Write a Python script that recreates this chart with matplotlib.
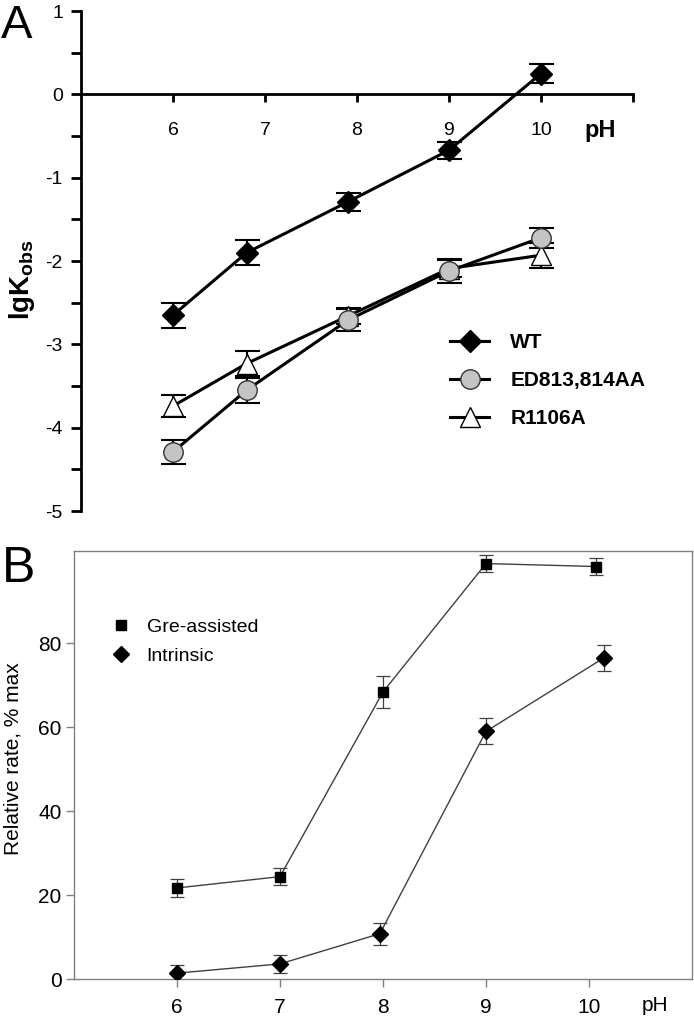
import matplotlib
matplotlib.use('Agg')
import matplotlib.pyplot as plt
from matplotlib.lines import Line2D

plt.rcParams['font.family'] = ['Liberation Sans', 'DejaVu Sans']
plt.rcParams['mathtext.default'] = 'regular'
plt.rcParams['axes.unicode_minus'] = False

# panel A data (lgKobs vs pH)
ph_a = [6, 6.8, 7.9, 9, 10]
wt = [-2.65, -1.90, -1.29, -0.67, 0.25]
wt_err = [0.15, 0.15, 0.11, 0.10, 0.11]
ed = [-4.29, -3.55, -2.71, -2.12, -1.72]
ed_err = [0.14, 0.15, 0.13, 0.14, 0.12]
r1106 = [-3.74, -3.23, -2.66, -2.09, -1.93]
r1106_err = [0.13, 0.15, 0.10, 0.10, 0.15]
ticks_a = [6, 7, 8, 9, 10, 11]
ticklabels_a = ['6', '7', '8', '9', '10', '']

# panel B data (relative rate vs pH)
ph_gre = [6, 7, 8, 9, 10.07]
gre = [21.7, 24.4, 68.4, 99.0, 98.3]
gre_err = [2.1, 2.1, 3.7, 2.1, 2.1]
ph_int = [6, 7, 7.97, 9, 10.15]
intr = [1.4, 3.6, 10.8, 59.0, 76.6]
intr_err = [1.9, 2.1, 2.6, 3.1, 3.1]
ticks_b = [6, 7, 8, 9, 10]

fig = plt.figure(figsize=(6.94, 10.16), dpi=100)

# ---------- panel A ----------
ax1 = fig.add_axes([0.1167, 0.4970, 0.7954, 0.4921])
ebkw = dict(fmt='none', ecolor='k', elinewidth=1.5, capsize=9, capthick=1.5, zorder=2)
ax1.errorbar(ph_a, r1106, yerr=r1106_err, **ebkw)
ax1.errorbar(ph_a, ed, yerr=ed_err, **ebkw)
ax1.errorbar(ph_a, wt, yerr=wt_err, **ebkw)
h_r, = ax1.plot(ph_a, r1106, '-^', color='k', lw=2.2, ms=14, mfc='white', mec='k', mew=1.0, zorder=3, label='R1106A')
h_ed, = ax1.plot(ph_a, ed, '-o', color='k', lw=2.2, ms=14, mfc='#c4c4c4', mec='#333333', mew=1.0, zorder=3, label='ED813,814AA')
h_wt, = ax1.plot(ph_a, wt, '-D', color='k', lw=2.2, ms=11, mfc='k', mec='k', zorder=4, label='WT')

ax1.set_xlim(5, 11)
ax1.set_ylim(-5, 1)
ax1.spines['bottom'].set_position(('data', 0))
ax1.spines['top'].set_visible(False)
ax1.spines['right'].set_visible(False)
for s in ['left', 'bottom']:
    ax1.spines[s].set_linewidth(2)
ax1.set_xticks(ticks_a)
ax1.set_xticklabels(ticklabels_a)
ax1.set_yticks([-5, -4, -3, -2, -1, 0, 1])
ax1.set_yticks([-4.5, -3.5, -2.5, -1.5, -0.5, 0.5], minor=True)
ax1.tick_params(axis='x', direction='out', length=6, width=2, pad=14, labelsize=14)
ax1.tick_params(axis='y', which='both', direction='out', length=7, width=2, pad=6, labelsize=14)
ax1.text(10.64, -0.43, 'pH', fontsize=17, fontweight='bold', ha='center', va='center')
ax1.set_ylabel('lgK$_{obs}$', fontsize=20, fontweight='bold')
ax1.yaxis.set_label_coords(-0.080, 0.462)
ax1.legend(handles=[h_wt, h_ed, h_r], loc='upper left', bbox_to_anchor=(0.668, 0.356),
           frameon=False, prop={'weight': 'bold', 'size': 15}, handlelength=1.9,
           handletextpad=1.0, labelspacing=0.92, borderpad=0, borderaxespad=0)

# ---------- panel B ----------
ax2 = fig.add_axes([0.1066, 0.0364, 0.8905, 0.4213])
ebkw2 = dict(fmt='none', ecolor='#404040', elinewidth=0.9, capsize=5, capthick=0.9, zorder=2)
ax2.errorbar(ph_gre, gre, yerr=gre_err, **ebkw2)
ax2.errorbar(ph_int, intr, yerr=intr_err, **ebkw2)
ax2.plot(ph_gre, gre, '-s', color='#404040', lw=1.0, ms=7, mfc='k', mec='k', zorder=3)
ax2.plot(ph_int, intr, '-D', color='#404040', lw=1.0, ms=8, mfc='k', mec='k', zorder=3)
ax2.set_xlim(5, 11)
ax2.set_ylim(0, 102)
for s in ax2.spines.values():
    s.set_color('#808080')
    s.set_linewidth(1.0)
ax2.set_xticks(ticks_b)
ax2.set_yticks([0, 20, 40, 60, 80])
ax2.tick_params(axis='both', direction='out', length=6, width=1, color='#808080', labelsize=15)
ax2.tick_params(axis='x', pad=8)
ax2.tick_params(axis='y', pad=3)
ax2.text(10.64, -6.2, 'pH', fontsize=15, ha='center', va='center', clip_on=False)
ax2.set_ylabel('Relative rate, % max', fontsize=15)
ax2.yaxis.set_label_coords(-0.083, 0.516)
p_gre = Line2D([], [], ls='none', marker='s', ms=7, mfc='k', mec='k')
p_int = Line2D([], [], ls='none', marker='D', ms=8, mfc='k', mec='k')
ax2.legend([p_gre, p_int], ['Gre-assisted', 'Intrinsic'], loc='upper left',
           bbox_to_anchor=(0.061, 0.843), frameon=False, fontsize=14,
           handlelength=1.0, handletextpad=0.8, labelspacing=0.6, borderpad=0, borderaxespad=0)

fig.text(0.002, 0.996, 'A', fontsize=34, va='top', ha='left')
fig.text(0.002, 0.463, 'B', fontsize=36, va='top', ha='left')

fig.savefig('out.png', dpi=100)
